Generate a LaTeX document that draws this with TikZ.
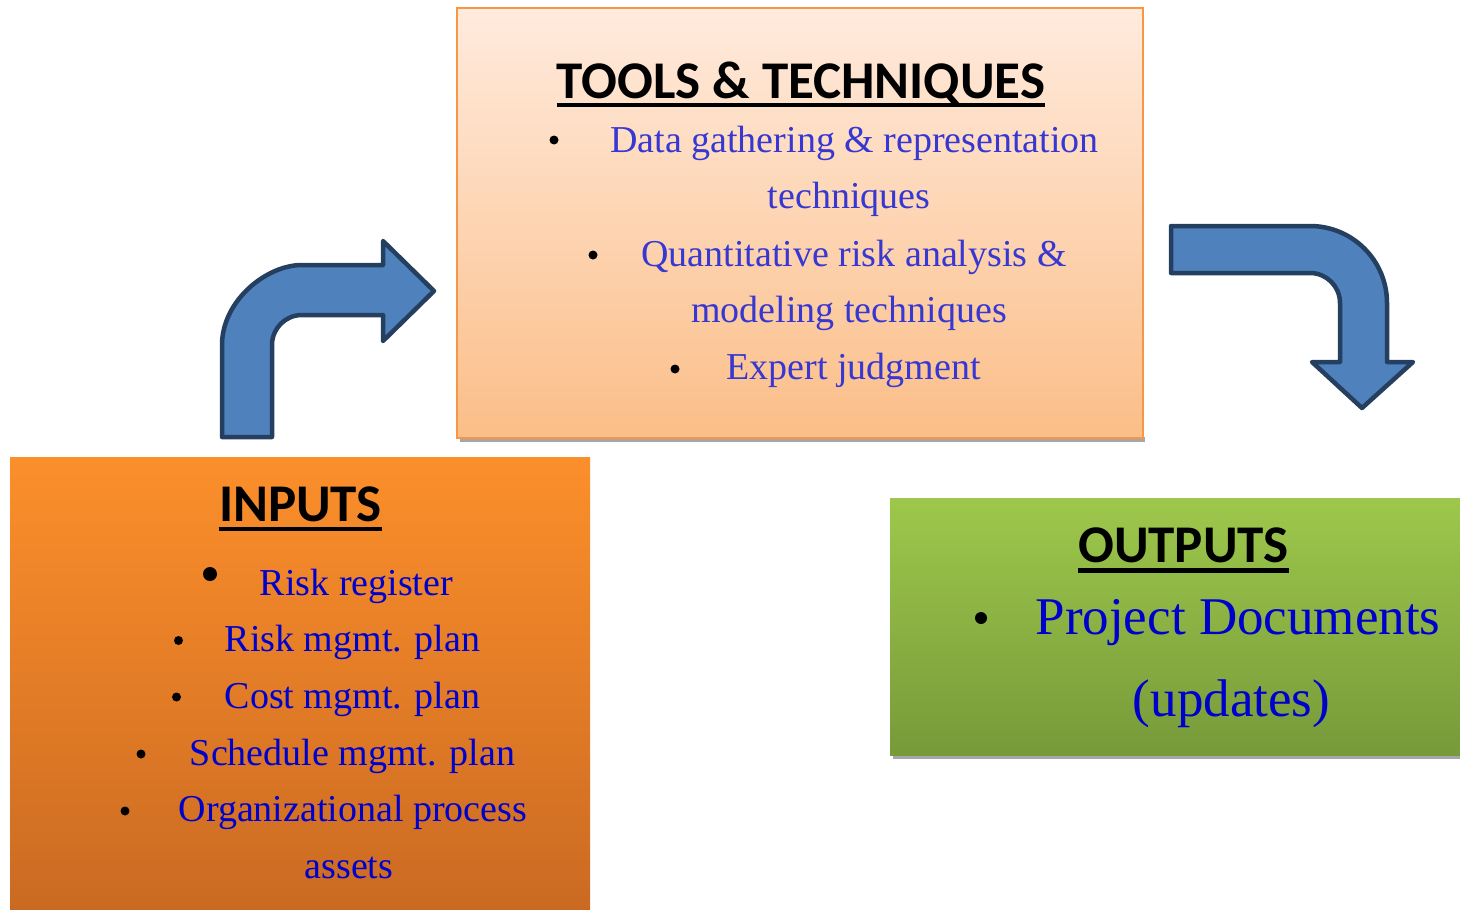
\documentclass[tikz,border=0pt]{standalone}
\usepackage{fontspec}
\setmainfont{Liberation Serif}
\newfontfamily\titlefont{Carlito}
\definecolor{arrowfill}{HTML}{4F81BD}
\definecolor{arrowline}{HTML}{243F60}
\definecolor{toolstop}{HTML}{FFEBDD}
\definecolor{toolsbot}{HTML}{FBBE88}
\definecolor{toolsborder}{HTML}{F79646}
\definecolor{inputstop}{HTML}{FC8F2B}
\definecolor{inputsbot}{HTML}{CA6A22}
\definecolor{outputstop}{HTML}{9DC84B}
\definecolor{outputsbot}{HTML}{779A3A}
\definecolor{shadowgray}{HTML}{A6A6A6}
\definecolor{tooltext}{HTML}{3737D2}
\definecolor{itemtext}{HTML}{0000CC}
\begin{document}
\begin{tikzpicture}[x=1pt,y=-1pt,
  bluearrow/.style={fill=arrowfill, draw=arrowline, line width=4.5, line join=round},
  titletext/.style={font=\titlefont\bfseries\fontsize{53}{60}\selectfont, inner sep=0, anchor=base},
  tooltxt/.style={font=\fontsize{38}{46}\selectfont, text=tooltext, inner sep=0, anchor=base},
  itemtxt/.style={font=\fontsize{38}{46}\selectfont, text=itemtext, inner sep=0, anchor=base},
  bigtxt/.style={font=\fontsize{53}{60}\selectfont, text=itemtext, inner sep=0, anchor=base},
  dot/.style={circle, fill=black, inner sep=0, minimum size=#1},
  dot/.default=9,
  uline/.style={line width=4.3}
]
\useasboundingbox (0,0) rectangle (1460,910);
% boxes
\fill[shadowgray] (460,437) rectangle (1145,442);
\shade[top color=toolstop, bottom color=toolsbot, draw=toolsborder, line width=2] (457,8) rectangle (1143,438);
\shade[top color=inputstop, bottom color=inputsbot] (10,457) rectangle (590,910);
\fill[shadowgray] (893,754) rectangle (1460,759);
\shade[top color=outputstop, bottom color=outputsbot] (890,498) rectangle (1460,755);

% arrows
\draw[bluearrow] (222,437) -- (222,345) .. controls (222,300.8) and (266.2,265) .. (302,265)
  -- (383,265) -- (383,241) -- (434,291) -- (383,341) -- (383,315) -- (302,315)
  .. controls (285.4,315) and (272,328.4) .. (272,345) -- (272,437) -- cycle;
\draw[bluearrow] (1171,226) -- (1310,226) .. controls (1352.5,226) and (1387,260.5) .. (1387,303)
  -- (1387,362) -- (1413,362) -- (1362,408) -- (1312,362) -- (1340,362) -- (1340,303)
  .. controls (1340,286.4) and (1326.6,273) .. (1310,273) -- (1171,273) -- cycle;

% tools
\node[titletext] (ttitle) at (801,98) {TOOLS \& TECHNIQUES};
\draw[uline] ([yshift=-7pt]ttitle.base west) -- ([yshift=-7pt]ttitle.base east);
\node[dot] (tb1) at (554,140) {};
\node[tooltxt] (t1) at (854.5,152) {Data gathering \& representation};
\node[tooltxt] (t2) at (849,208) {techniques};
\node[dot] (tb2) at (593,255) {};
\node[tooltxt] (t3) at (854,266) {Quantitative risk analysis \&};
\node[tooltxt] (t4) at (849,322) {modeling techniques};
\node[dot] (tb3) at (675,369) {};
\node[tooltxt] (t5) at (853.5,379) {Expert judgment};

% inputs
\node[titletext] (ititle) at (300.5,521.5) {INPUTS};
\draw[uline] ([yshift=-7.5pt]ititle.base west) -- ([yshift=-7.5pt]ititle.base east);
\node[dot=14] (ib1) at (210,574) {};
\node[itemtxt] (i1) at (356.5,595) {Risk register};
\node[dot] (ib2) at (178.5,640.5) {};
\node[itemtxt] (i2) at (352.5,651.5) {Risk mgmt. plan};
\node[dot] (ib3) at (176.5,697) {};
\node[itemtxt] (i3) at (352.5,708) {Cost mgmt. plan};
\node[dot] (ib4) at (141,754) {};
\node[itemtxt] (i4) at (352.5,765) {Schedule mgmt. plan};
\node[dot] (ib5) at (125,811) {};
\node[itemtxt] (i5) at (353,821.5) {Organizational process};
\node[itemtxt] (i6) at (349,878) {assets};

% outputs
\node[titletext] (otitle) at (1183.5,562.5) {OUTPUTS};
\draw[uline] ([yshift=-8pt]otitle.base west) -- ([yshift=-8pt]otitle.base east);
\node[dot=12] (ob1) at (981,618) {};
\node[bigtxt] (o1) at (1238,634) {Project Documents};
\node[bigtxt] (o2) at (1231.5,716.5) {(updates)};
\end{tikzpicture}
\end{document}
